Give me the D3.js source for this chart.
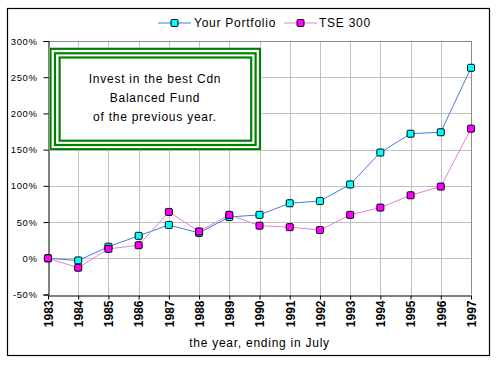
<!DOCTYPE html>
<html>
<head>
<meta charset="utf-8">
<script src="https://cdn.jsdelivr.net/npm/d3@7"></script>
<style>
  html, body { margin: 0; padding: 0; background: #fff; }
  svg { display: block; }
  text { font-family: Arial, "Liberation Sans", sans-serif; fill: #000; }
</style>
</head>
<body>
<svg id="chart" width="500" height="365"></svg>
<script>
const years = ["1983","1984","1985","1986","1987","1988","1989","1990","1991","1992","1993","1994","1995","1996","1997"];
const portfolio = [0, -3, 16, 31, 46, 35, 57, 60, 76, 79, 102, 146, 172, 174, 263];
const tse300 = [0, -13, 13, 18, 64, 37, 60, 45, 43, 39, 60, 70, 87, 99, 179];
const yTicks = [-50, 0, 50, 100, 150, 200, 250, 300];
const seriesNames = ["Your Portfolio", "TSE 300"];
const boxLines = ["Invest in the best Cdn", "Balanced Fund", "of the previous year."];
const xTitle = "the year, ending in July";

(function () {
const svg = d3.select("#chart");
const pL = 48, pR = 471, pT = 41, pB = 294.5;

const x = d3.scalePoint().domain(years).range([pL, pR]);
const y = d3.scaleLinear().domain([-50, 300]).range([pB, pT]);

// outer border
svg.append("rect").attr("x", 7.5).attr("y", 8.5).attr("width", 482).attr("height", 347)
  .attr("fill", "#fff").attr("stroke", "#000").attr("stroke-width", 1.2);

// grid
const g = svg.append("g");
g.selectAll("line.hg").data(yTicks.filter(d => d > -50 && d < 300)).enter().append("line")
  .attr("x1", pL).attr("x2", pR)
  .attr("y1", d => Math.round(y(d)) + 0.5).attr("y2", d => Math.round(y(d)) + 0.5)
  .attr("stroke", "#c0c0c0").attr("stroke-width", 1);
g.selectAll("line.vg").data(years.slice(1, -1)).enter().append("line")
  .attr("y1", pT).attr("y2", pB)
  .attr("x1", d => Math.round(x(d)) + 0.5).attr("x2", d => Math.round(x(d)) + 0.5)
  .attr("stroke", "#c0c0c0").attr("stroke-width", 1);
g.append("line").attr("x1", pL).attr("x2", pR).attr("y1", Math.round(pT) + 0.5).attr("y2", Math.round(pT) + 0.5)
  .attr("stroke", "#8c8c8c");
g.append("line").attr("x1", Math.round(pR) + 0.5).attr("x2", Math.round(pR) + 0.5).attr("y1", pT).attr("y2", pB)
  .attr("stroke", "#8c8c8c");

// axes
const yAxis = d3.axisLeft(y).tickValues(yTicks).tickSize(5).tickPadding(6).tickFormat(d => d + "%");
const yg = svg.append("g").attr("transform", `translate(${Math.round(pL) + 0.5},0)`).call(yAxis);
yg.select(".domain").attr("stroke", "#000");
yg.selectAll(".tick line").attr("stroke", "#000");
yg.selectAll(".tick text").attr("font-size", "9.5px").attr("letter-spacing", "0.6px")
  .attr("font-family", "Arial, 'Liberation Sans', sans-serif").attr("fill", "#000");

const xAxis = d3.axisBottom(x).tickSize(4).tickSizeOuter(0);
const xg = svg.append("g").attr("transform", `translate(0,${Math.round(pB) + 0.5})`).call(xAxis);
xg.select(".domain").attr("stroke", "#000");
xg.selectAll(".tick line").attr("stroke", "#000");
xg.selectAll(".tick text")
  .attr("font-size", "12px").attr("font-weight", "bold")
  .attr("font-family", "Arial, 'Liberation Sans', sans-serif").attr("fill", "#000")
  .attr("text-anchor", "end")
  .attr("transform", "rotate(-90)")
  .attr("x", -5).attr("y", 0).attr("dy", "0.36em");

// x title
svg.append("text").attr("x", (pL + pR) / 2).attr("y", 346.5).attr("text-anchor", "middle")
  .attr("font-size", "12px").attr("letter-spacing", "0.75px").text(xTitle);

// text box
const rects = [
  {x0: 50.5, y0: 48.8, x1: 260, y1: 149.2},
  {x0: 55, y0: 53.3, x1: 255.6, y1: 145},
  {x0: 59.6, y0: 57.5, x1: 251.2, y1: 140.7}
];
svg.append("rect").attr("x", 49).attr("y", 47.5).attr("width", 212.5).attr("height", 103).attr("fill", "#fff");
svg.selectAll("rect.bx").data(rects).enter().append("rect")
  .attr("x", d => d.x0).attr("y", d => d.y0).attr("width", d => d.x1 - d.x0).attr("height", d => d.y1 - d.y0)
  .attr("fill", "none").attr("stroke", "#008000").attr("stroke-width", 2.2);
svg.selectAll("text.bt").data(boxLines).enter().append("text")
  .attr("x", 155).attr("y", (d, i) => 83 + i * 19).attr("text-anchor", "middle")
  .attr("font-size", "12px").attr("letter-spacing", "0.75px").text(d => d);

// series
const series = [
  {name: seriesNames[0], values: portfolio, line: "#3f7fdc", fill: "#00ffff"},
  {name: seriesNames[1], values: tse300, line: "#e77fd9", fill: "#ff00ff"}
];
const lineGen = d3.line().x((d, i) => x(years[i])).y(d => y(d));
series.forEach(s => {
  svg.append("path").attr("d", lineGen(s.values)).attr("fill", "none")
    .attr("stroke", s.line).attr("stroke-width", 1);
});
series.forEach(s => {
  svg.selectAll(null).data(s.values).enter().append("rect")
    .attr("x", (d, i) => x(years[i]) - 3.5).attr("y", d => y(d) - 3.5)
    .attr("width", 7).attr("height", 7).attr("rx", 1.2)
    .attr("fill", s.fill).attr("stroke", "#000").attr("stroke-width", 1);
});

// legend
const legendItems = [
  {x: 158, tx: 194},
  {x: 284, tx: 319}
];
series.forEach((s, i) => {
  const L = legendItems[i];
  svg.append("line").attr("x1", L.x).attr("x2", L.x + 33).attr("y1", 23).attr("y2", 23)
    .attr("stroke", s.line).attr("stroke-width", 1);
  svg.append("rect").attr("x", L.x + 16.5 - 3.5).attr("y", 23 - 3.5).attr("width", 7).attr("height", 7)
    .attr("rx", 1.2).attr("fill", s.fill).attr("stroke", "#000");
  svg.append("text").attr("x", L.tx).attr("y", 27.3).attr("font-size", "12px")
    .attr("letter-spacing", "0.75px").text(s.name);
});
})();
</script>
</body>
</html>
